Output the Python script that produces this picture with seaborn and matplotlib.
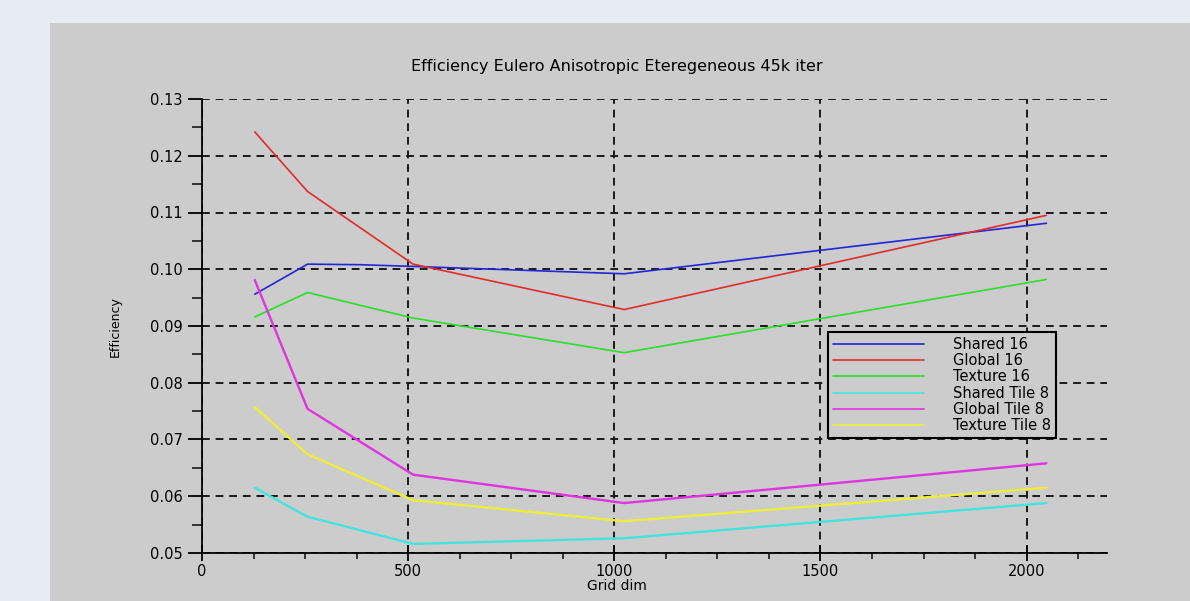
import numpy as np
import pandas as pd
import matplotlib
matplotlib.use("Agg")
import matplotlib.pyplot as plt
import seaborn as sns
from matplotlib.ticker import MultipleLocator

# Values
grid_dims = [128, 256, 512, 1024, 2048]
shared_dims = [128, 256, 384, 512, 1024, 2048]

shared16 = [0.0956, 0.1009, 0.1008, 0.1005, 0.0992, 0.1081]
global16 = [0.1242, 0.1137, 0.1009, 0.0929, 0.1095]
texture16 = [0.0916, 0.0959, 0.0914, 0.0853, 0.0982]
shared_tile8 = [0.0615, 0.0564, 0.0516, 0.0526, 0.0588]
global_tile8 = [0.0981, 0.0754, 0.0638, 0.0588, 0.0658]
texture_tile8 = [0.0757, 0.0674, 0.0593, 0.0556, 0.0615]

series_names = ["Shared 16", "Global 16", "Texture 16",
                "Shared Tile 8", "Global Tile 8", "Texture Tile 8"]
colors = ["#2424d8", "#e02c2c", "#28e028", "#44e4dc", "#e034e0", "#eeee3a"]

# build a long table for seaborn
rows = []
for name, xs, ys in [("Shared 16", shared_dims, shared16),
                     ("Global 16", grid_dims, global16),
                     ("Texture 16", grid_dims, texture16),
                     ("Shared Tile 8", grid_dims, shared_tile8),
                     ("Global Tile 8", grid_dims, global_tile8),
                     ("Texture Tile 8", grid_dims, texture_tile8)]:
    for x, y in zip(xs, ys):
        rows.append({"Grid dim": x, "Efficiency": y, "series": name})
df = pd.DataFrame(rows)

panel_gray = "#cccccc"

sns.set_theme(style="ticks")
plt.rcParams["font.family"] = ["DejaVu Sans"]
plt.rcParams["text.color"] = "black"

fig = plt.figure(figsize=(11.9, 6.01), dpi=100)
fig.patch.set_facecolor("#e6ebf4")
# gray panel behind the plot
panel = plt.Rectangle((50 / 1190, 0), 1 - 50 / 1190, 1 - 23 / 601,
                      transform=fig.transFigure, facecolor=panel_gray,
                      edgecolor="none", zorder=-10)
fig.add_artist(panel)

ax = fig.add_axes([202 / 1190, 48 / 601, 905 / 1190, 454 / 601])
ax.set_facecolor(panel_gray)
ax.set_zorder(5)

sns.lineplot(data=df, x="Grid dim", y="Efficiency", hue="series",
             hue_order=series_names, palette=dict(zip(series_names, colors)),
             sort=False, estimator=None, linewidth=1.2, ax=ax)
for line in ax.lines[3:6]:
    line.set_linewidth(1.7)

ax.set_xlim(0, 2195)
ax.set_ylim(0.05, 0.13)
ax.set_xticks([0, 500, 1000, 1500, 2000])
ax.set_yticks(np.round(np.arange(0.05, 0.1301, 0.01), 2))
ax.set_yticklabels([f"{v:.2f}" for v in np.arange(0.05, 0.1301, 0.01)])
ax.xaxis.set_minor_locator(MultipleLocator(125))
ax.yaxis.set_minor_locator(MultipleLocator(0.005))

ax.grid(True, which="major", color="#1a1a1a", linestyle=(0, (4, 3)), linewidth=1.4)
ax.set_axisbelow(True)

for side in ["top", "right"]:
    ax.spines[side].set_visible(False)
for side in ["left", "bottom"]:
    ax.spines[side].set_color("black")
    ax.spines[side].set_linewidth(1.3)

ax.tick_params(axis="y", which="major", direction="out", length=10, width=1.3,
               labelsize=10.5, pad=4, colors="black")
ax.tick_params(axis="y", which="minor", direction="out", length=7, width=1.3)
ax.tick_params(axis="x", which="major", direction="inout", length=12, width=1.3,
               labelsize=10.5, pad=2, colors="black")
ax.tick_params(axis="x", which="minor", direction="out", length=4, width=1.3)

ax.set_xlabel("")
ax.set_ylabel("")
fig.text(0.5185, 1 - 66 / 601, "Efficiency Eulero Anisotropic Eteregeneous 45k iter",
         ha="center", va="center", fontsize=11.5, color="black")
fig.text(0.5185, 1 - 586 / 601, "Grid dim", ha="center", va="center",
         fontsize=10, color="black")
fig.text(115 / 1190, 1 - 327 / 601, "Efficiency", ha="center", va="center",
         rotation=90, fontsize=9, color="black")

handles, labels = ax.get_legend_handles_labels()
ax.get_legend().remove()
leg = ax.legend(handles, labels, loc="upper left",
                bbox_to_anchor=((828 - 202) / 905, (553 - 332) / 454),
                fontsize=10.5, frameon=True, fancybox=False, handlelength=6.2,
                handletextpad=2.0, labelspacing=0.08, borderpad=0.35,
                borderaxespad=0)
for txt in leg.get_texts():
    txt.set_color("black")
leg.get_frame().set_facecolor(panel_gray)
leg.get_frame().set_edgecolor("black")
leg.get_frame().set_linewidth(1.5)
leg.get_frame().set_alpha(1)

fig.savefig("out.png", dpi=100, facecolor=fig.get_facecolor())
